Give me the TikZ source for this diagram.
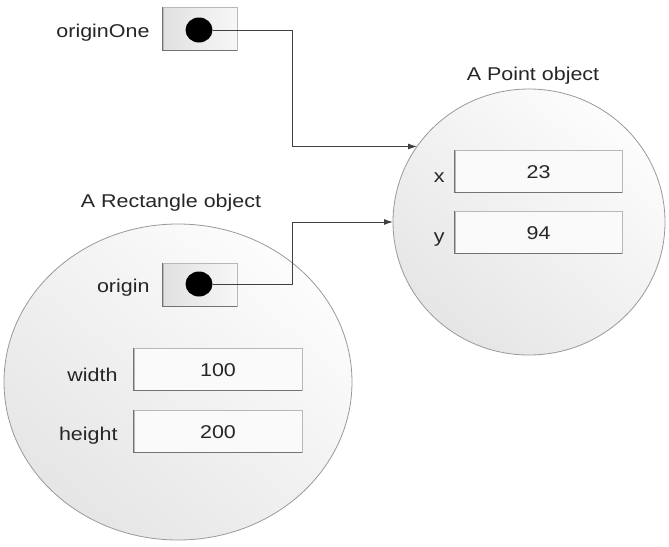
\documentclass[tikz,border=0pt]{standalone}
\usepackage{fontspec}
\setmainfont{Liberation Sans}[FakeStretch=1.16]
\usetikzlibrary{shapes.geometric,arrows.meta,positioning,calc}

\tikzset{
  txt/.style={font=\fontsize{18.5}{20}\selectfont, text=black!85, inner sep=0pt,
              text height=0.72em, text depth=0.21em, yshift=-2.5pt},
  objcircle/.style={ellipse, draw=black!40, line width=0.8pt, inner sep=0pt, outer sep=0pt,
              top color=black!1, bottom color=black!10, shading angle=-40},
  field/.style={rectangle, draw=black!28, line width=0.6pt, fill=black!2, inner sep=0pt,
              minimum width=167pt, minimum height=42pt},
  ptrbox/.style={rectangle, draw=black!28, line width=0.6pt, left color=black!12, right color=black!3,
              inner sep=0pt, minimum width=74pt, minimum height=43pt},
  dot/.style={ellipse, fill=black, inner sep=0pt, minimum width=27pt, minimum height=25pt},
  conn/.style={draw=black!75, line width=1pt, -{Latex[length=9pt,width=6pt]}},
  lbl/.style={txt, anchor=east},
  val/.style={yshift=-2pt},
}

% darker sunken edges on the left and bottom sides of a box
\newcommand{\sunken}[1]{%
  \draw[black!55, line width=1.3pt] (#1.north west) -- (#1.south west) -- (#1.south east);}

\begin{document}
\begin{tikzpicture}[x=1pt, y=-1pt]
  \useasboundingbox (0,0) rectangle (669,546);

  % object circles
  \node[objcircle, minimum width=348pt, minimum height=316pt] (rect) at (178,382) {};
  \node[objcircle, minimum width=272pt, minimum height=266pt] (pt) at (529,222) {};

  % titles
  \node[txt] (ptitle) at (533,75) {A Point object};
  \node[txt] (rtitle) at (171,202) {A Rectangle object};

  % reference variable outside any object
  \node[ptrbox] (b1) at (200,29) {};
  \sunken{b1}
  \node[lbl, left=13pt of b1, yshift=-3pt] (l1) {originOne};
  \node[dot] (d1) at (199,30) {};

  % fields of the point
  \node[field] (fx) at (538.5,171) {};
  \sunken{fx}
  \node[txt, val] (vx) at (fx) {23};
  \node[lbl, left=10pt of fx, yshift=-6pt] (lx) {x};
  \node[field] (fy) at (538.5,232) {};
  \sunken{fy}
  \node[txt, val] (vy) at (fy) {94};
  \node[lbl, left=10pt of fy, yshift=-5pt] (ly) {y};

  % fields of the rectangle
  \node[ptrbox] (b2) at (200,284.5) {};
  \sunken{b2}
  \node[lbl, left=13pt of b2, yshift=-3pt] (l2) {origin};
  \node[dot] (d2) at (199,284) {};

  \node[field, minimum width=168pt] (fw) at (218,369) {};
  \sunken{fw}
  \node[txt, val] (vw) at (fw) {100};
  \node[lbl, left=16pt of fw, yshift=-7pt] (lw) {width};
  \node[field, minimum width=168pt] (fh) at (218,431) {};
  \sunken{fh}
  \node[txt, val] (vh) at (fh) {200};
  \node[lbl, left=16pt of fh, yshift=-4pt] (lh) {height};

  % references
  \coordinate (k1) at (292,0);
  \coordinate (t1) at (pt.146.8);
  \draw[conn] (d1.east) -- (d1.east -| k1) -- (k1 |- t1) -- (t1);
  \coordinate (t2) at (pt.west);
  \draw[conn] (d2.east) -- (d2.east -| k1) -- (k1 |- t2) -- (t2);
\end{tikzpicture}
\end{document}
